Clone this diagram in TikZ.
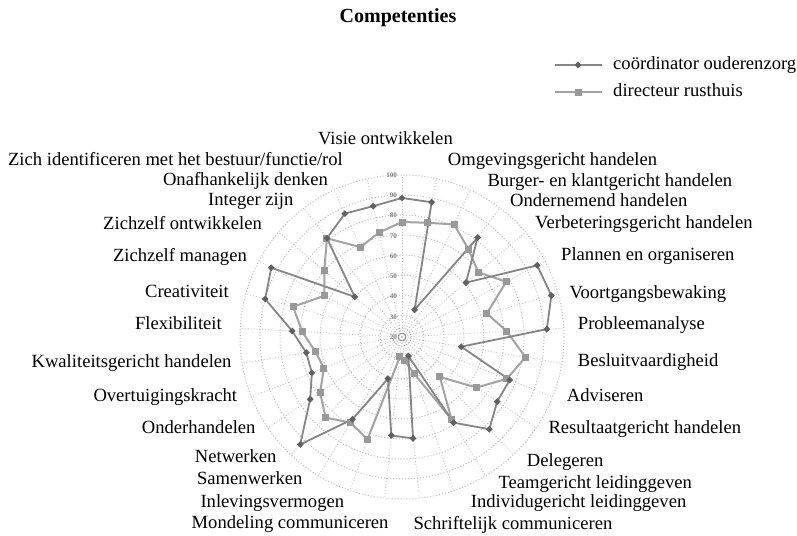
\documentclass[tikz,border=0pt]{standalone}
\usepackage{fontspec}
\setmainfont{Liberation Serif}
\usetikzlibrary{shapes.geometric}
\begin{document}
\begin{tikzpicture}[x=1pt,y=-1pt,
 lab/.style={font=\fontsize{18.6}{20}\selectfont, inner sep=0pt, text height=13pt, text depth=4pt},
 ring/.style={draw=black!25, dotted, line width=1pt},
 spoke/.style={draw=black!22, dotted, line width=0.9pt},
 cline/.style={draw=black!48, line width=1.8pt, line join=round},
 dline/.style={draw=black!36, line width=2pt, line join=round},
 cmark/.style={diamond, fill=black!62, inner sep=0pt, minimum size=7pt},
 dmark/.style={rectangle, fill=black!40, inner sep=0pt, minimum size=7pt},
 scl/.style={font=\fontsize{7}{7}\selectfont\bfseries, text=black!50, inner sep=0pt}]
\useasboundingbox (0,0) rectangle (797,535);
\fill[white] (0,0) rectangle (797,535);
\coordinate (C) at (402,337);
% grid
\foreach \r in {22,42,...,162} \draw[ring] (C) circle[radius=\r];
\foreach \i in {0,...,28} \draw[spoke] (C) -- ++({-90+\i*360/29}:162);
\draw[black!45, line width=0.8pt] (C) circle[radius=4];
\draw[black!40, dotted, line width=0.8pt] (C) circle[radius=9];
\foreach \v [count=\j from 0] in {100,90,...,20}
  \node[scl, anchor=east] (s\j) at (397, 175+\j*20.25) {\v};
% data
\foreach \r [count=\i from 0] in {115,117,124,110,100,118,88,105,125,113,90,55,96,39,24,20,108,100,111,99,84,88,100,113,88,102,124,99,107}
  \path (C) ++({-90+\i*360/29}:\r) coordinate (d\i);
\foreach \r [count=\i from 0] in {139,138,30,125,84,153,155,145,60,116,115,127,100,20,102,99,44,96,148,111,97,97,110,142,148,62,124,136,134}
  \path (C) ++({-90+\i*360/29}:\r) coordinate (c\i);
\draw[dline] (d0) \foreach \i in {1,...,28}{ -- (d\i)} -- cycle;
\draw[cline] (c0) \foreach \i in {1,...,28}{ -- (c\i)} -- cycle;
\foreach \i in {0,...,28} \node[dmark] (dm\i) at (d\i) {};
\foreach \i in {0,...,28} \node[cmark] (cm\i) at (c\i) {};
% title
\node[font=\fontsize{20}{22}\selectfont\bfseries, inner sep=0pt] (title) at (398,18) {Competenties};
% legend
\coordinate (la1) at (555,65); \coordinate (lb1) at (602,65);
\draw[cline] (la1) -- (lb1);
\node[cmark] (lm1) at (578,65) {};
\node[lab, anchor=west] (lt1) at (613,65) {coördinator ouderenzorg};
\coordinate (la2) at (555,92); \coordinate (lb2) at (602,92);
\draw[dline] (la2) -- (lb2);
\node[dmark] (lm2) at (578,92) {};
\node[lab, anchor=west] (lt2) at (613,92) {directeur rusthuis};
% axis labels right
\node[lab, anchor=east] (a0) at (453,140) {Visie ontwikkelen};
\node[lab, anchor=west] (a1) at (447.7,161) {Omgevingsgericht handelen};
\node[lab, anchor=west] (a2) at (487.3,182.3) {Burger- en klantgericht handelen};
\node[lab, anchor=west] (a3) at (510,202.3) {Ondernemend handelen};
\node[lab, anchor=west] (a4) at (535,224.3) {Verbeteringsgericht handelen};
\node[lab, anchor=west] (a5) at (561,256) {Plannen en organiseren};
\node[lab, anchor=west] (a6) at (569.3,294.3) {Voortgangsbewaking};
\node[lab, anchor=west] (a7) at (577.7,325) {Probleemanalyse};
\node[lab, anchor=west] (a8) at (577.7,361.7) {Besluitvaardigheid};
\node[lab, anchor=west] (a9) at (566.7,397.3) {Adviseren};
\node[lab, anchor=west] (a10) at (548.3,429) {Resultaatgericht handelen};
\node[lab, anchor=west] (a11) at (526.7,462.3) {Delegeren};
\node[lab, anchor=west] (a12) at (498.3,484) {Teamgericht leidinggeven};
\node[lab, anchor=west] (a13) at (470.7,503.3) {Individugericht leidinggeven};
\node[lab, anchor=west] (a14) at (413.3,525) {Schriftelijk communiceren};
% axis labels left
\node[lab, anchor=east] (a15) at (388.7,524) {Mondeling communiceren};
\node[lab, anchor=east] (a16) at (344.3,503.3) {Inlevingsvermogen};
\node[lab, anchor=east] (a17) at (302.7,480) {Samenwerken};
\node[lab, anchor=east] (a18) at (276.7,458.3) {Netwerken};
\node[lab, anchor=east] (a19) at (255.7,429.3) {Onderhandelen};
\node[lab, anchor=east] (a20) at (237.3,397.3) {Overtuigingskracht};
\node[lab, anchor=east] (a21) at (231.7,362.7) {Kwaliteitsgericht handelen};
\node[lab, anchor=east] (a22) at (222,325) {Flexibiliteit};
\node[lab, anchor=east] (a23) at (229,293.3) {Creativiteit};
\node[lab, anchor=east] (a24) at (247,256.7) {Zichzelf managen};
\node[lab, anchor=east] (a25) at (262,225) {Zichzelf ontwikkelen};
\node[lab, anchor=east] (a26) at (293.5,200.7) {Integer zijn};
\node[lab, anchor=east] (a27) at (328,180.7) {Onafhankelijk denken};
\node[lab, anchor=east] (a28) at (343,160.7) {Zich identificeren met het bestuur/functie/rol};
\end{tikzpicture}
\end{document}
